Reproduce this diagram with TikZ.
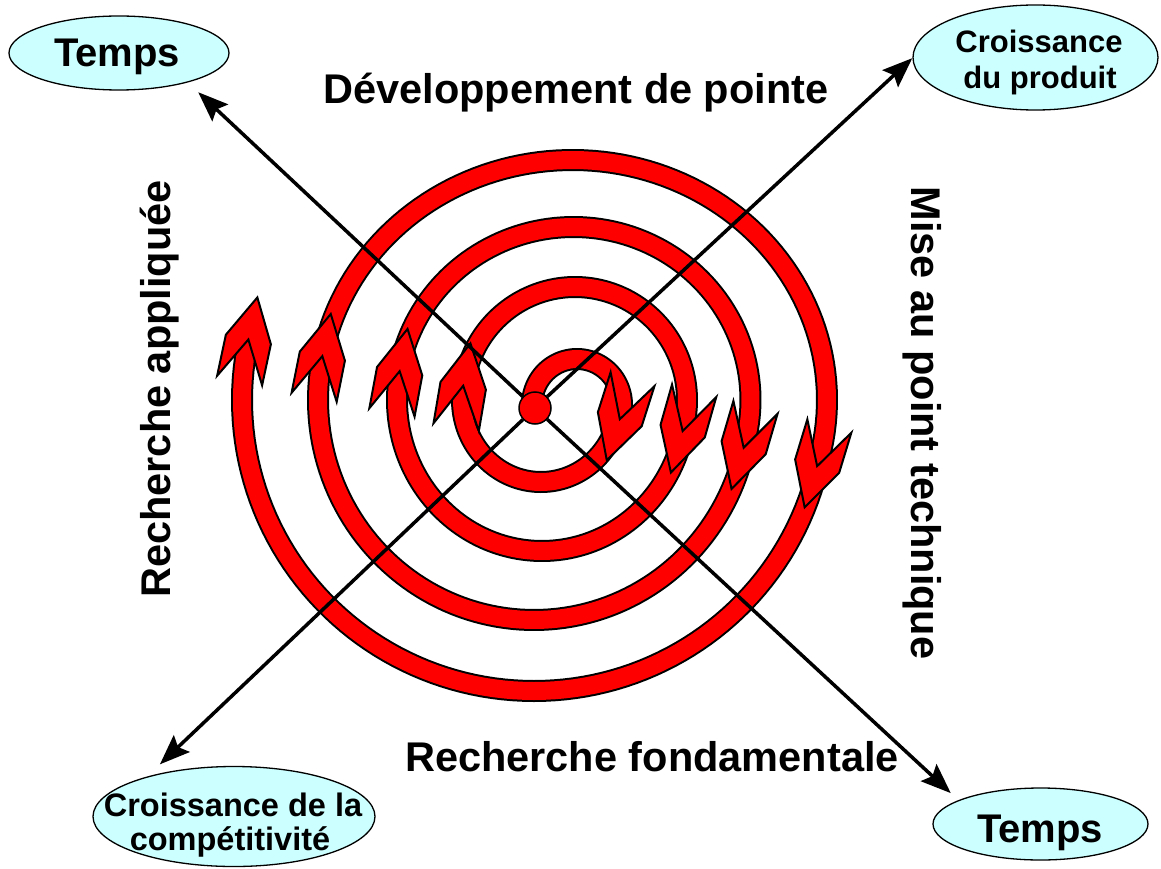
\documentclass[tikz,border=0pt]{standalone}
\usepackage{fontspec}
\setmainfont{Liberation Sans}
\usetikzlibrary{arrows.meta,shapes.geometric}

\definecolor{bubblecyan}{HTML}{CCFFFF}

\tikzset{
  band/.style={draw=black, line width=2pt, double=red, double distance=18pt},
  barb/.style={draw=black, line width=2pt, fill=red, line join=miter},
  conn/.style={draw=black, line width=3.5pt, -{Stealth[length=30pt,width=23pt,inset=5pt]}},
  bubble/.style={ellipse, draw=black, line width=1.3pt, fill=bubblecyan, inner sep=0pt, outer sep=0pt},
  bigtext/.style={font=\bfseries\fontsize{41.5}{48}\selectfont, inner sep=0pt},
  tempstext/.style={font=\bfseries\fontsize{40}{46}\selectfont, inner sep=0pt},
  smalltext/.style={font=\bfseries\fontsize{31}{36}\selectfont, inner sep=0pt},
}

% one turn of the spiral: centre (#1,#2), radii #3/#4, angles #5 to #6
\newcommand{\spiralband}[6]{%
  \draw[band] plot[domain=#5:#6, samples=90, variable=\t]
    ({#1+#3*cos(\t)},{#2+#4*sin(\t)});
}

% notched arrow head at the end (angle #5) of a turn
\newcommand{\spiralhead}[5]{%
  \pgfmathsetmacro{\shX}{#1+#3*cos(#5)}%
  \pgfmathsetmacro{\shY}{#2+#4*sin(#5)}%
  \pgfmathsetmacro{\shTx}{-#3*sin(#5)}%
  \pgfmathsetmacro{\shTy}{#4*cos(#5)}%
  \pgfmathsetmacro{\shL}{veclen(\shTx,\shTy)}%
  \pgfmathsetmacro{\shUx}{\shTx/\shL}%
  \pgfmathsetmacro{\shUy}{\shTy/\shL}%
  \filldraw[barb]
    ({\shX+43*(\shUx)},{\shY+43*(\shUy)})
    -- ({\shX-23*(\shUy)},{\shY+23*(\shUx)})
    -- ({\shX-42*(\shUx)-23*(\shUy)},{\shY-42*(\shUy)+23*(\shUx)})
    -- (\shX,\shY)
    -- ({\shX-42*(\shUx)+23*(\shUy)},{\shY-42*(\shUy)-23*(\shUx)})
    -- ({\shX+23*(\shUy)},{\shY-23*(\shUx)})
    -- cycle;
}

\begin{document}
\begin{tikzpicture}[x=1pt, y=-1pt]
\useasboundingbox (0,0) rectangle (1161,869);
\fill[white] (0,0) rectangle (1161,869);

% spiral turns: upper halves, then lower halves
\spiralband{577}{405}{45}{46}{180}{378}
\spiralband{575}{400}{112}{113}{192}{376}
\spiralband{573.5}{400}{177}{173}{192}{376}
\spiralband{572.5}{400}{254.5}{240}{192}{376}
\spiralband{541}{400}{79}{82}{16}{190}
\spiralband{542}{400}{145}{151}{14}{191}
\spiralband{534}{400}{216}{220}{14}{191.5}
\spiralband{534}{400}{292}{291}{14}{192}

% arrow heads
\spiralhead{577}{405}{45}{46}{378}
\spiralhead{575}{400}{112}{113}{376}
\spiralhead{573.5}{400}{177}{173}{376}
\spiralhead{572.5}{400}{254.5}{240}{376}
\spiralhead{541}{400}{79}{82}{190}
\spiralhead{542}{400}{145}{151}{191}
\spiralhead{534}{400}{216}{220}{191.5}
\spiralhead{534}{400}{292}{291}{192}

% corner bubbles
\node[bubble, minimum width=220pt, minimum height=74pt] (tl) at (119,53) {};
\node[bubble, minimum width=245pt, minimum height=105pt] (tr) at (1035.5,57.5) {};
\node[bubble, minimum width=282pt, minimum height=100pt] (bl) at (234,816.5) {};
\node[bubble, minimum width=215pt, minimum height=72pt] (br) at (1040.5,824) {};

\node[tempstext, anchor=base] (tltext) at (117,67) {Temps};
\node[tempstext, anchor=base] (brtext) at (1040,842) {Temps};
\node[smalltext, anchor=base] (trtext1) at (1039,53) {Croissance};
\node[smalltext, anchor=base] (trtext2) at (1040,89) {du produit};
\node[smalltext, anchor=base, font=\bfseries\fontsize{32.5}{38}\selectfont] (bltext1) at (233,816) {Croissance de la};
\node[smalltext, anchor=base, font=\bfseries\fontsize{32.5}{38}\selectfont] (bltext2) at (230,850) {compétitivité};

% phase labels
\node[bigtext, anchor=base] (devt) at (576,104) {Développement de pointe};
\node[bigtext, anchor=base] (fond) at (652,771) {Recherche fondamentale};
\node[bigtext, anchor=base, rotate=90] (appl) at (170,389) {Recherche appliquée};
\node[bigtext, anchor=base, rotate=-90] (mise) at (911,423) {Mise au point technique};

% centre point and axes
\node[circle, draw=black, line width=1.5pt, fill=red, minimum size=32pt, inner sep=0pt] (hub) at (535,408) {};
\draw[conn, shorten >=15pt] (hub) -- (tl.-23);
\draw[conn, shorten >=1pt] (hub) -- (tr.180);
\draw[conn, shorten >=19pt] (hub) -- (bl.156);
\draw[conn, shorten >=11pt] (hub) -- (br.164);
\end{tikzpicture}
\end{document}
